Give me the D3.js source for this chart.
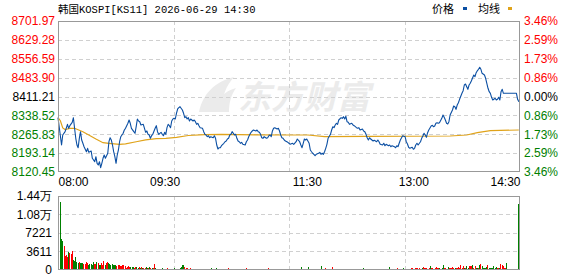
<!DOCTYPE html>
<html>
<head>
<meta charset="utf-8">
<script src="https://cdnjs.cloudflare.com/ajax/libs/d3/7.8.5/d3.min.js"></script>
<style>
html, body { margin: 0; padding: 0; background: #fff; }
svg { display: block; }
</style>
</head>
<body>
<div id="container"></div>
<script>
// tick labels
const priceTicks = [8120.45, 8193.14, 8265.83, 8338.52, 8411.21, 8483.90, 8556.59, 8629.28, 8701.97];
const pctTicks = ['3.46%', '2.59%', '1.73%', '0.86%', '0.00%', '0.86%', '1.73%', '2.59%', '3.46%'];
const timeTickMinutes = [0, 90, 210, 300, 390];
const timeTickLabels = ['08:00', '09:30', '11:30', '13:00', '14:30'];
const volTickValues = [0, 3611, 7221, 10832, 14442];
const volTickLabels = ['0', '3611', '7221', '1.08万', '1.44万'];

// [minute, price]
const pricePoints = [
    [0,8329.6],[3,8224.4],[4,8262.9],[6,8275.7],[8,8304.1],[9,8288.7],[10,8298.8],[12,8311.8],[13,8329.6],[14,8288.7],
    [15,8250.2],[16,8224.4],[17,8214.0],[18,8250.2],[19,8275.7],[20,8243.7],[21,8231.0],[22,8217.9],[24,8198.6],[25,8211.7],
    [26,8196.3],[28,8201.3],[29,8173.2],[31,8160.1],[32,8179.4],[33,8153.9],[34,8147.4],[35,8160.1],[36,8137.0],[37,8153.9],
    [38,8173.2],[39,8185.9],[40,8173.2],[42,8192.5],[43,8237.1],[44,8252.5],[45,8243.7],[46,8224.4],[47,8198.6],[48,8179.4],
    [49,8153.9],[50,8185.9],[51,8205.2],[52,8237.1],[53,8256.4],[55,8269.5],[56,8282.2],[57,8288.7],[59,8308.0],[60,8320.7],
    [61,8308.0],[62,8288.7],[64,8275.7],[65,8269.5],[66,8294.9],[67,8324.6],[68,8316.9],[69,8314.2],[70,8301.5],[72,8304.1],
    [73,8288.7],[74,8273.3],[75,8278.4],[76,8265.6],[77,8262.9],[78,8250.2],[79,8260.2],[80,8265.6],[82,8288.7],[83,8298.8],
    [84,8275.7],[85,8265.6],[86,8269.5],[87,8273.3],[88,8265.6],[89,8260.2],[90,8273.3],[91,8265.6],[92,8291.1],[93,8304.1],
    [94,8298.8],[95,8291.1],[96,8316.9],[97,8324.6],[98,8327.2],[99,8324.6],[100,8346.5],[101,8363.1],[102,8368.1],[103,8371.9],
    [105,8359.2],[106,8346.5],[107,8329.6],[108,8333.4],[109,8324.6],[110,8329.6],[111,8316.9],[112,8324.6],[114,8316.9],[115,8320.7],
    [116,8314.2],[117,8304.1],[118,8308.0],[119,8298.8],[120,8291.1],[122,8288.7],[123,8275.7],[124,8265.6],[125,8262.9],[126,8256.4],
    [127,8260.2],[128,8252.5],[129,8256.4],[131,8252.5],[132,8260.2],[133,8250.2],[134,8224.4],[135,8209.0],[136,8214.0],[137,8214.0],
    [138,8221.7],[140,8231.0],[141,8237.1],[142,8239.8],[143,8247.5],[144,8250.2],[145,8262.9],[146,8265.6],[147,8275.7],[149,8262.9],
    [150,8265.6],[151,8250.2],[152,8239.8],[153,8237.1],[154,8231.0],[155,8234.8],[156,8227.1],[158,8224.4],[159,8237.1],[160,8243.7],
    [161,8256.4],[162,8265.6],[163,8273.3],[164,8278.4],[165,8282.2],[167,8278.4],[168,8282.2],[169,8275.7],[170,8273.3],[171,8265.6],
    [172,8252.5],[173,8250.2],[174,8256.4],[176,8250.2],[177,8252.5],[178,8260.2],[179,8262.9],[180,8256.4],[181,8278.4],[182,8288.7],
    [183,8291.1],[185,8286.1],[186,8288.7],[187,8278.4],[188,8262.9],[189,8252.5],[190,8250.2],[191,8243.7],[192,8239.8],[194,8234.8],
    [195,8231.0],[196,8227.1],[198,8231.0],[199,8227.1],[201,8237.1],[202,8247.5],[204,8237.1],[205,8224.4],[206,8214.0],[207,8231.0],
    [208,8247.5],[209,8243.7],[210,8247.5],[212,8231.0],[213,8205.2],[214,8198.6],[215,8192.5],[216,8188.6],[217,8183.2],[218,8188.6],
    [220,8192.5],[221,8196.3],[222,8188.6],[223,8192.5],[224,8188.6],[225,8198.6],[226,8211.7],[227,8227.1],[228,8250.2],[230,8265.6],
    [231,8282.2],[232,8294.9],[233,8291.1],[234,8301.5],[235,8308.0],[236,8304.1],[237,8320.7],[239,8329.6],[240,8327.2],[241,8333.4],
    [242,8324.6],[243,8334.9],[244,8314.2],[245,8311.8],[246,8304.1],[248,8308.0],[249,8301.5],[250,8298.8],[251,8294.9],[252,8291.1],
    [253,8288.7],[254,8291.1],[255,8282.2],[257,8286.1],[258,8278.4],[259,8275.7],[260,8265.6],[261,8252.5],[262,8243.7],[263,8252.5],
    [264,8247.5],[266,8239.8],[267,8242.5],[268,8239.8],[269,8237.1],[270,8243.7],[271,8237.1],[272,8227.1],[274,8224.4],[275,8231.0],
    [276,8221.7],[277,8227.1],[278,8224.4],[279,8221.7],[280,8224.4],[281,8217.9],[282,8221.7],[284,8217.9],[285,8214.0],[286,8221.7],
    [287,8217.9],[288,8231.0],[289,8243.7],[290,8252.5],[291,8260.2],[293,8256.4],[294,8237.1],[295,8228.3],[296,8215.6],[297,8211.7],
    [299,8215.6],[300,8207.9],[301,8211.7],[302,8224.4],[303,8231.0],[304,8224.4],[306,8237.1],[307,8250.2],[308,8259.1],[309,8269.5],
    [310,8262.9],[311,8254.1],[312,8271.8],[313,8282.2],[315,8297.6],[316,8300.3],[317,8294.9],[318,8297.6],[319,8308.0],[320,8310.3],
    [321,8308.0],[322,8310.3],[324,8327.2],[325,8340.0],[326,8331.1],[327,8320.7],[328,8308.0],[329,8305.3],[330,8314.2],[331,8340.0],
    [333,8359.2],[334,8374.6],[335,8371.9],[336,8361.9],[337,8378.5],[338,8387.3],[339,8400.4],[341,8423.5],[342,8433.5],[343,8455.5],
    [344,8459.3],[345,8448.9],[346,8438.9],[347,8455.5],[348,8462.1],[349,8472.1],[351,8494.0],[352,8487.5],[353,8502.9],[354,8510.6],
    [355,8515.9],[356,8523.7],[357,8515.9],[358,8500.6],[360,8494.0],[361,8481.3],[362,8462.1],[363,8442.8],[364,8429.7],[365,8423.5],
    [366,8408.1],[367,8397.7],[369,8404.3],[370,8397.7],[371,8400.4],[372,8408.1],[373,8397.7],[374,8429.7],[375,8438.9],[376,8423.5],
    [387,8423.5],[388,8400.4],[389,8391.2]
];

// [minute, average price]
const avgPoints = [
    [0,8329.6],[2,8318.0],[4,8290.0],[6,8284.0],[10,8288.7],[14,8288.7],[21,8275.7],[26,8262.9],[32,8247.5],[38,8233.3],
    [43,8231.0],[52,8227.1],[57,8229.0],[66,8237.0],[74,8244.0],[83,8248.7],[91,8250.2],[100,8254.1],[110,8261.0],[124,8264.5],
    [138,8265.6],[167,8263.5],[196,8262.9],[211,8262.9],[225,8256.4],[261,8258.0],[331,8259.1],[345,8263.0],[354,8271.8],[365,8279.5],
    [389,8282.2]
];

// one bar per minute
const volumes = [
    13280,5990,5600,4680,2730,2990,2600,3510,3380,3120,3640,1890,1690,2540,1560,1430,1560,1370,1370,1300,
    1240,1240,1560,1430,1040,1170,1170,910,1560,1240,1240,1560,1370,910,1040,1370,1040,1690,1040,1370,
    1560,1430,1240,1040,1170,910,910,910,780,910,1040,780,780,910,910,780,390,590,780,590,
    590,590,590,390,590,590,390,520,390,520,390,390,390,520,390,390,520,460,390,460,
    1170,390,260,200,200,200,200,390,200,200,200,330,200,260,260,260,200,330,200,200,
    200,200,390,520,1000,1000,520,330,330,200,200,390,200,200,200,200,200,260,200,200,
    200,260,200,200,260,200,200,200,260,330,200,260,200,330,260,200,200,260,200,200,
    260,200,260,330,200,200,260,200,260,200,200,260,200,200,260,200,260,200,330,200,
    200,260,200,200,200,260,200,260,200,200,200,200,200,200,200,200,260,330,260,200,
    200,200,200,260,200,200,200,260,200,200,200,200,200,200,200,200,200,260,200,200,
    200,200,260,200,200,590,200,200,200,200,200,590,200,200,260,200,200,200,200,200,
    200,200,780,200,260,200,330,260,200,260,200,200,590,260,200,200,260,200,200,200,
    200,200,200,260,200,200,200,200,200,200,260,200,200,200,200,200,260,200,330,200,
    200,200,200,200,200,200,200,200,200,200,260,200,200,200,200,200,200,200,260,200,
    590,200,200,200,200,260,260,330,260,200,200,200,330,260,200,200,200,260,200,330,
    330,260,330,390,330,260,330,200,330,590,390,330,390,260,330,780,390,330,260,390,
    590,330,390,330,260,330,980,390,330,260,590,390,390,330,590,390,330,390,390,590,
    390,980,390,780,330,390,780,330,780,780,780,980,390,780,330,390,390,980,1170,780,
    330,390,390,590,980,390,330,390,330,780,390,590,330,390,390,1170,980,780,390,330,1430,
    0,0,0,0,0,0,0,0,0,12880
];
// r = up minute, g = down minute, one letter per bar
const volumeDirs =
    'gggrrrrgrrrgggggrggg' + 'rrrrgggggrrgrggrrrgr' + 'rgggggggrrrrrrrrrrrr' +
    'gggrrggrgrgrrggrgrgr' + 'rggggggggggrrrrrrggg' + 'grggggrrrggrrrrggrrg' +
    'ggggggrggggggggrrrrr' + 'rrrrgrggggggrggrrrrr' + 'rrggrgggggrgrrgrrrrr' +
    'rggggggggggrggrggrgr' + 'rgggrgrrgggggggggrgr' + 'gggrrrrr' + 'rrrrr' + 'rrrrr' + 'gr' +
    'ggggggrgggggrggggggg' + 'rggrggrgggggrggrgggg' + 'ggrggrrrrgggggrgggrr' +
    'rgrrrrrggrrrrgrgrrgr' + 'rrrggggrrggrrrrrgrrr' + 'rrrrgrggrrrgrrggrgrg' +
    'ggggrgggggggrrgrrrrrg' + 'rrrrrrrrrg';

const W = 578, H = 276;
const L = 58, R = 520, T = 21, B = 172;
const VT = 196, VB = 270;
const RED = '#ff0000', GREEN = '#008000';
const FONT = "'Liberation Sans', Arial, sans-serif";

const svg = d3.select('#container')
    .append('svg')
    .attr('width', W)
    .attr('height', H)
    .style('font-family', FONT)
    .style('font-size', '12px');

const x = d3.scaleLinear().domain([0, 390]).range([L, R]);
const y = d3.scaleLinear().domain([priceTicks[0], priceTicks[priceTicks.length - 1]]).range([B, T]);
const vx = d3.scaleLinear().domain([0, volumes.length - 1]).range([60.5, 518.5]);
const vy = d3.scaleLinear().domain([0, volTickValues[volTickValues.length - 1]]).range([VB, VT]);

const tickColor = i => i < 4 ? GREEN : (i === 4 ? '#000' : RED);

// watermark
const wm = svg.append('g').attr('fill', '#ebebeb');
wm.append('path')
    .attr('d', 'M199,112 C203,94 214,82 234,77 C226,86 222,96 221,112 Z M214,112 C217,100 224,91 236,88 C231,95 229,103 229,112 Z');
wm.append('text')
    .attr('x', 238)
    .attr('y', 109)
    .text('东方财富')
    .style('font-family', "'Noto Sans CJK SC', sans-serif")
    .style('font-size', '33px')
    .style('font-weight', 700)
    .style('font-style', 'italic');

// grid
const grid = svg.append('g')
    .attr('stroke', '#d0d0d0')
    .attr('stroke-dasharray', '4,3')
    .attr('shape-rendering', 'crispEdges');
priceTicks.slice(1, -1).forEach(v => {
    grid.append('line').attr('x1', L).attr('x2', R)
        .attr('y1', Math.round(y(v)) + 0.5).attr('y2', Math.round(y(v)) + 0.5);
});
volTickValues.slice(1, -1).forEach(v => {
    grid.append('line').attr('x1', L).attr('x2', R)
        .attr('y1', Math.round(vy(v)) + 0.5).attr('y2', Math.round(vy(v)) + 0.5);
});
[1, 2, 3].forEach(k => {
    const gx = Math.round(x(390 * k / 4)) + 0.5;
    grid.append('line').attr('x1', gx).attr('x2', gx).attr('y1', T).attr('y2', B);
    grid.append('line').attr('x1', gx).attr('x2', gx).attr('y1', VT).attr('y2', VB);
});

// volume bars
svg.append('g')
    .attr('shape-rendering', 'crispEdges')
    .selectAll('rect')
    .data(volumes)
    .join('rect')
    .attr('x', (d, i) => Math.floor(vx(i)))
    .attr('y', d => vy(d))
    .attr('width', 1)
    .attr('height', d => VB - vy(d))
    .attr('fill', (d, i) => volumeDirs[i] === 'g' ? GREEN : RED);

// average line
svg.append('path')
    .datum(avgPoints)
    .attr('fill', 'none')
    .attr('stroke', '#e0a31a')
    .attr('stroke-width', 1.2)
    .attr('d', d3.line().x(d => x(d[0])).y(d => y(d[1])));

// price line
svg.append('path')
    .datum(pricePoints)
    .attr('fill', 'none')
    .attr('stroke', '#0b4fa3')
    .attr('stroke-width', 1.1)
    .attr('stroke-linejoin', 'round')
    .attr('d', d3.line().x(d => x(d[0])).y(d => y(d[1])));

// frames
[[T, B], [VT, VB]].forEach(([t, b]) => {
    svg.append('rect')
        .attr('x', L + 0.5).attr('y', t + 0.5)
        .attr('width', R - L - 1).attr('height', b - t - 1)
        .attr('fill', 'none')
        .attr('stroke', '#999')
        .attr('shape-rendering', 'crispEdges');
});

// axes
const leftAxis = svg.append('g')
    .attr('transform', `translate(${L},0)`)
    .call(d3.axisLeft(y).tickValues(priceTicks).tickFormat(d => d.toFixed(2)).tickSize(0).tickPadding(3));
leftAxis.selectAll('text').attr('fill', (d, i) => tickColor(i));

const rightAxis = svg.append('g')
    .attr('transform', `translate(${R},0)`)
    .call(d3.axisRight(y).tickValues(priceTicks).tickFormat((d, i) => pctTicks[i]).tickSize(0).tickPadding(4));
rightAxis.selectAll('text').attr('fill', (d, i) => tickColor(i));

const timeAxis = svg.append('g')
    .attr('transform', `translate(0,${B})`)
    .call(d3.axisBottom(x).tickValues(timeTickMinutes).tickFormat((d, i) => timeTickLabels[i]).tickSize(0).tickPadding(5));
timeAxis.selectAll('text')
    .attr('fill', '#000')
    .attr('text-anchor', (d, i) => i === 0 ? 'start' : (i === timeTickMinutes.length - 1 ? 'end' : 'middle'));

const volAxis = svg.append('g')
    .attr('transform', `translate(${L},0)`)
    .call(d3.axisLeft(vy).tickValues(volTickValues).tickFormat((d, i) => volTickLabels[i]).tickSize(0).tickPadding(6));
volAxis.selectAll('text').attr('fill', '#000');

svg.selectAll('.domain').remove();
svg.selectAll('.tick text').style('font-family', FONT).style('font-size', '12px');

// title and legend
svg.append('text')
    .attr('x', L)
    .attr('y', 13)
    .text('韩国KOSPI[KS11] 2026-06-29 14:30')
    .style('font-family', "'Liberation Mono', 'Noto Sans CJK SC', monospace")
    .style('font-size', '10.5px')
    .attr('fill', '#000');

svg.append('text').attr('x', 432).attr('y', 13).text('价格')
    .style('font-family', "'Noto Sans CJK SC', sans-serif").style('font-size', '11px');
svg.append('rect').attr('x', 463).attr('y', 7).attr('width', 4).attr('height', 3).attr('fill', '#0b4fa3');
svg.append('text').attr('x', 478).attr('y', 13).text('均线')
    .style('font-family', "'Noto Sans CJK SC', sans-serif").style('font-size', '11px');
svg.append('rect').attr('x', 508).attr('y', 7).attr('width', 4).attr('height', 3).attr('fill', '#e0a31a');
</script>
</body>
</html>
